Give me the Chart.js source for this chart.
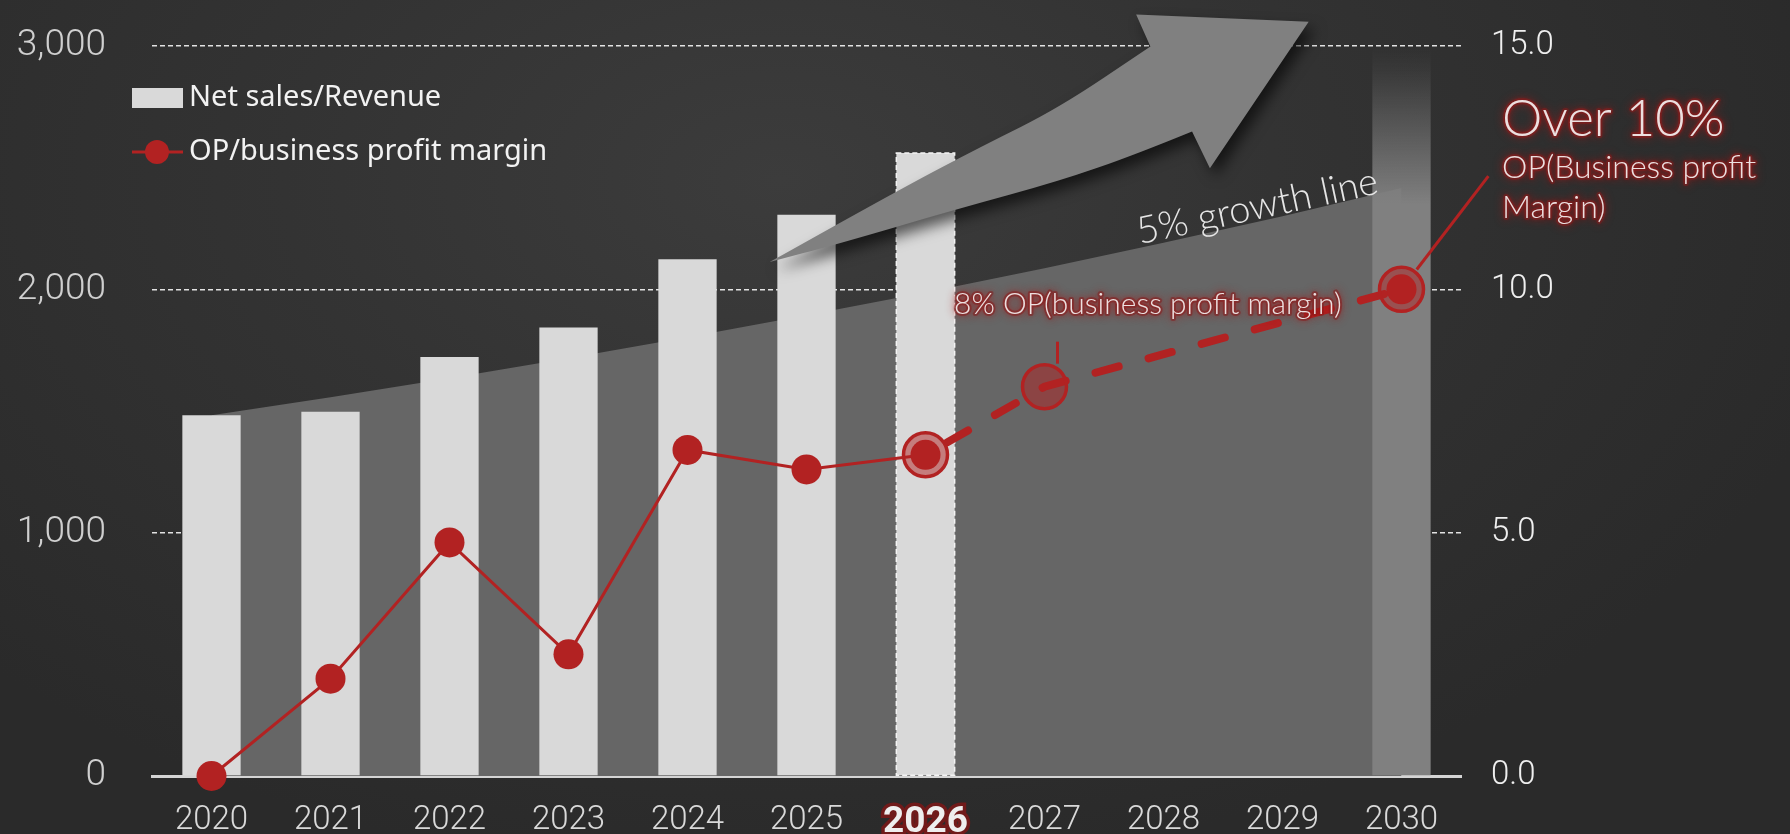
<!DOCTYPE html>
<html lang="en">
<head>
<meta charset="utf-8">
<title>Net sales and OP margin</title>
<script src="https://cdn.jsdelivr.net/npm/chart.js@4.4.1/dist/chart.umd.min.js"></script>
<style>
  html, body { margin: 0; padding: 0; }
  body {
    width: 1790px; height: 834px; overflow: hidden;
    background: radial-gradient(ellipse 1100px 700px at 780px 180px, #3c3c3c 0%, #333333 45%, #2a2a2a 100%);
  }
  #salesChart { display: block; }
</style>
</head>
<body>
<canvas id="salesChart" width="1790" height="834"></canvas>
<script>
const years = ['2020', '2021', '2022', '2023', '2024', '2025', '2026', '2027', '2028', '2029', '2030'];
const netSales = [1483, 1497, 1722, 1843, 2124, 2307, 2560, null, null, null, null];
const targetBand = [null, null, null, null, null, null, null, null, null, null, 3000];
const growthLine = [1483, 1557, 1635, 1717, 1803, 1893, 1987, 2087, 2191, 2300, 2416];
const opMargin = [0, 2.0, 4.8, 2.5, 6.7, 6.3, 6.6, null, null, null, null];
const opPlan = [null, null, null, null, null, null, 6.6, 8, null, null, 10];
const opTarget = [null, null, null, null, null, null, null, null, null, null, 10];
const salesTicks = [0, 1000, 2000, 3000];
const marginTicks = [0, 5, 10, 15];

const RED = '#b22222';
const TICK_FONT = 'Roboto';
const NOTE_FONT = 'Lato';
const LEGEND_FONT = 'Noto Sans';

const forecastIdx = years.indexOf('2026');
const planIdx = years.indexOf('2027');
const targetIdx = years.indexOf('2030');

// category index + sales value -> canvas pixel
function pt(chart, i, v) {
  return { x: chart.scales.x.getPixelForValue(i), y: chart.scales.ySales.getPixelForValue(v) };
}

// fixed box sizes so the plot area lands where it should
function fixBox(w, h) {
  return s => {
    if (w !== null) s.width = w;
    if (h !== null) s.height = h;
    s.paddingTop = s.paddingBottom = s.paddingLeft = s.paddingRight = 0;
  };
}

function glowText(ctx, text, x, y, size) {
  ctx.save();
  ctx.font = `300 ${size}px ${NOTE_FONT}`;
  ctx.textBaseline = 'alphabetic';
  ctx.textAlign = 'left';
  ctx.lineJoin = 'round';
  ctx.shadowColor = 'rgba(170,25,25,0.95)';
  ctx.shadowBlur = 10;
  ctx.strokeStyle = 'rgba(130,28,28,0.5)';
  ctx.lineWidth = 4;
  ctx.strokeText(text, x, y);
  ctx.shadowBlur = 4;
  ctx.fillStyle = '#ece0e0';
  ctx.fillText(text, x, y);
  ctx.restore();
}

function curveThrough(ctx, pts) {
  for (let k = 1; k < pts.length - 1; k++) {
    const mx = (pts[k].x + pts[k + 1].x) / 2;
    const my = (pts[k].y + pts[k + 1].y) / 2;
    ctx.quadraticCurveTo(pts[k].x, pts[k].y, mx, my);
  }
  const last = pts[pts.length - 1];
  ctx.lineTo(last.x, last.y);
}

function drawArrow(chart) {
  const ctx = chart.ctx;
  const P = ([i, v]) => pt(chart, i, v);
  const upper = [[4.69, 2112], [5.74, 2400], [6.48, 2590], [7.12, 2745], [7.89, 2998]].map(P);
  const head = [[7.77, 3129], [9.22, 3100], [8.39, 2498]].map(P);
  const lower = [[8.24, 2649], [7.77, 2555], [7.12, 2444], [6.26, 2329], [5.26, 2186], [4.69, 2112]].map(P);
  ctx.save();
  ctx.beginPath();
  ctx.moveTo(upper[0].x, upper[0].y);
  curveThrough(ctx, upper);
  head.forEach(p => ctx.lineTo(p.x, p.y));
  ctx.lineTo(lower[0].x, lower[0].y);
  curveThrough(ctx, lower);
  ctx.closePath();
  ctx.shadowColor = 'rgba(0,0,0,0.6)';
  ctx.shadowBlur = 14;
  ctx.shadowOffsetX = 6;
  ctx.shadowOffsetY = 8;
  ctx.fillStyle = '#808080';
  ctx.fill();
  ctx.restore();
}

// dashed outline on the forecast bar + the big arrow, drawn right after the bars
const barExtras = {
  id: 'barExtras',
  afterDatasetDraw(chart, args) {
    if (chart.data.datasets[args.index].label !== 'Net sales/Revenue') return;
    const ctx = chart.ctx;
    const bar = args.meta.data[forecastIdx];
    const { x, y, base, width } = bar.getProps(['x', 'y', 'base', 'width'], true);
    ctx.save();
    ctx.setLineDash([5, 3]);
    ctx.strokeStyle = '#f4f4f4';
    ctx.lineWidth = 1.5;
    ctx.strokeRect(x - width / 2, y, width, base - y);
    ctx.restore();
    drawArrow(chart);
  }
};

const notes = {
  id: 'notes',
  afterDatasetsDraw(chart) {
    const ctx = chart.ctx;

    // growth line caption
    const g = pt(chart, 8.81, 2290);
    ctx.save();
    ctx.translate(g.x, g.y);
    ctx.rotate(-12 * Math.PI / 180);
    ctx.font = `300 38px ${NOTE_FONT}`;
    ctx.fillStyle = '#e6e6e6';
    ctx.textAlign = 'center';
    ctx.fillText('5% growth line', 0, 0);
    ctx.restore();

    const plan = chart.getDatasetMeta(1).data;

    // 2027 callout
    const p27 = plan[planIdx];
    ctx.save();
    ctx.strokeStyle = RED;
    ctx.lineWidth = 3;
    ctx.beginPath();
    ctx.moveTo(p27.x + 13, p27.y - 23);
    ctx.lineTo(p27.x + 13, p27.y - 45);
    ctx.stroke();
    ctx.restore();
    const l27 = pt(chart, 6.24, 1899);
    glowText(ctx, '8% OP(business profit margin)', l27.x, l27.y, 30);

    // 2030 callout
    const p30 = plan[targetIdx];
    const anchor = pt(chart, 10.73, 2465);
    const dx = anchor.x - p30.x, dy = anchor.y - p30.y;
    const len = Math.hypot(dx, dy);
    ctx.save();
    ctx.strokeStyle = RED;
    ctx.lineWidth = 3;
    ctx.beginPath();
    ctx.moveTo(p30.x + dx / len * 25, p30.y + dy / len * 25);
    ctx.lineTo(anchor.x, anchor.y);
    ctx.stroke();
    ctx.restore();
    const t1 = pt(chart, 10.845, 2629);
    const t2 = pt(chart, 10.845, 2457);
    const t3 = pt(chart, 10.845, 2293);
    glowText(ctx, 'Over 10%', t1.x, t1.y, 51);
    glowText(ctx, 'OP(Business profit', t2.x, t2.y, 32);
    glowText(ctx, 'Margin)', t3.x, t3.y, 32);
  }
};

const sideLegend = {
  id: 'sideLegend',
  afterDraw(chart) {
    const { ctx, chartArea } = chart;
    const x0 = chartArea.left - 20;
    const row1 = chartArea.top + 52;
    const row2 = chartArea.top + 106;
    ctx.save();
    ctx.fillStyle = '#d9d9d9';
    ctx.fillRect(x0, row1 - 10, 51, 20);
    ctx.strokeStyle = RED;
    ctx.lineWidth = 3;
    ctx.beginPath();
    ctx.moveTo(x0, row2);
    ctx.lineTo(x0 + 51, row2);
    ctx.stroke();
    ctx.fillStyle = RED;
    ctx.beginPath();
    ctx.arc(x0 + 25, row2, 12, 0, Math.PI * 2);
    ctx.fill();
    ctx.font = `29px ${LEGEND_FONT}`;
    ctx.fillStyle = '#f2f2f2';
    ctx.textBaseline = 'middle';
    ctx.fillText('Net sales/Revenue', x0 + 57, row1);
    ctx.fillText('OP/business profit margin', x0 + 57, row2);
    ctx.restore();
  }
};

new Chart(document.getElementById('salesChart'), {
  data: {
    labels: years,
    datasets: [
      {
        type: 'line', label: 'OP/business profit margin', data: opMargin, yAxisID: 'yMargin',
        borderColor: RED, borderWidth: 3, tension: 0,
        pointRadius: 15, pointHoverRadius: 15, pointBackgroundColor: RED, pointBorderWidth: 0,
        order: 1, clip: false
      },
      {
        type: 'line', label: 'OP plan', data: opPlan, yAxisID: 'yMargin', spanGaps: true,
        borderColor: RED, borderWidth: 8, borderDash: [24, 31], borderDashOffset: 30, borderCapStyle: 'round',
        tension: 0,
        pointRadius: 22, pointHoverRadius: 22,
        pointBackgroundColor: 'rgba(178,34,34,0.5)', pointBorderColor: RED, pointBorderWidth: 3.5,
        order: 3, clip: false
      },
      {
        type: 'line', label: 'OP target', data: opTarget, yAxisID: 'yMargin', showLine: false,
        pointRadius: 15, pointHoverRadius: 15, pointBackgroundColor: RED, pointBorderWidth: 0,
        order: 2, clip: false
      },
      {
        type: 'bar', label: 'Net sales/Revenue', data: netSales, yAxisID: 'ySales',
        backgroundColor: '#d9d9d9', grouped: false, barPercentage: 0.49, categoryPercentage: 1,
        order: 8
      },
      {
        type: 'bar', label: '2030 target', data: targetBand, yAxisID: 'ySales',
        grouped: false, barPercentage: 0.49, categoryPercentage: 1, order: 9,
        backgroundColor: c => {
          const ys = c.chart.scales.ySales;
          if (!ys || !c.chart.chartArea) return '#808080';
          const grad = c.chart.ctx.createLinearGradient(0, ys.getPixelForValue(3000), 0, ys.getPixelForValue(2350));
          grad.addColorStop(0, 'rgba(128,128,128,0)');
          grad.addColorStop(0.15, 'rgba(128,128,128,0.1)');
          grad.addColorStop(1, 'rgba(128,128,128,1)');
          return grad;
        }
      },
      {
        type: 'line', label: '5% growth line', data: growthLine, yAxisID: 'ySales',
        fill: 'origin', backgroundColor: '#666666', borderColor: 'rgba(0,0,0,0)', borderWidth: 0,
        pointRadius: 0, tension: 0, order: 10
      }
    ]
  },
  options: {
    responsive: false,
    animation: false,
    devicePixelRatio: 1,
    events: [],
    layout: { padding: { top: 46, left: 0, right: 0, bottom: 0 } },
    plugins: { legend: { display: false }, tooltip: { enabled: false } },
    scales: {
      x: {
        offset: true,
        grid: { color: 'rgba(0,0,0,0)', drawTicks: false },
        border: { display: true, color: '#d4d4d4', width: 3 },
        ticks: {
          autoSkip: false, maxRotation: 0, padding: 25,
          color: c => c.index === forecastIdx ? '#eeeeee' : '#d9d9d9',
          font: c => c.index === forecastIdx
            ? { family: TICK_FONT, size: 37, weight: 'bold' }
            : { family: TICK_FONT, size: 33, weight: '300' },
          textStrokeColor: c => c.index === forecastIdx ? 'rgba(120,24,24,0.9)' : 'rgba(0,0,0,0)',
          textStrokeWidth: c => c.index === forecastIdx ? 7 : 0
        },
        afterFit: fixBox(null, 58)
      },
      ySales: {
        position: 'left', min: 0, max: 3000,
        afterBuildTicks: s => { s.ticks = salesTicks.map(v => ({ value: v })); },
        grid: { color: 'rgba(236,236,236,0.95)', lineWidth: 1.5, drawTicks: false },
        border: { display: false, dash: [5, 3] },
        ticks: {
          padding: 46, color: '#cfcfcf',
          font: { family: TICK_FONT, size: 37, weight: '300' },
          callback: v => v.toLocaleString('en-US')
        },
        afterFit: fixBox(152, null)
      },
      yMargin: {
        position: 'right', min: 0, max: 15,
        afterBuildTicks: s => { s.ticks = marginTicks.map(v => ({ value: v })); },
        grid: { display: false, drawTicks: false },
        border: { display: false },
        ticks: {
          padding: 30, color: '#efefef',
          font: { family: TICK_FONT, size: 33, weight: '300' },
          callback: v => v.toFixed(1)
        },
        afterFit: fixBox(329, null)
      }
    }
  },
  plugins: [barExtras, notes, sideLegend]
});
</script>
</body>
</html>
